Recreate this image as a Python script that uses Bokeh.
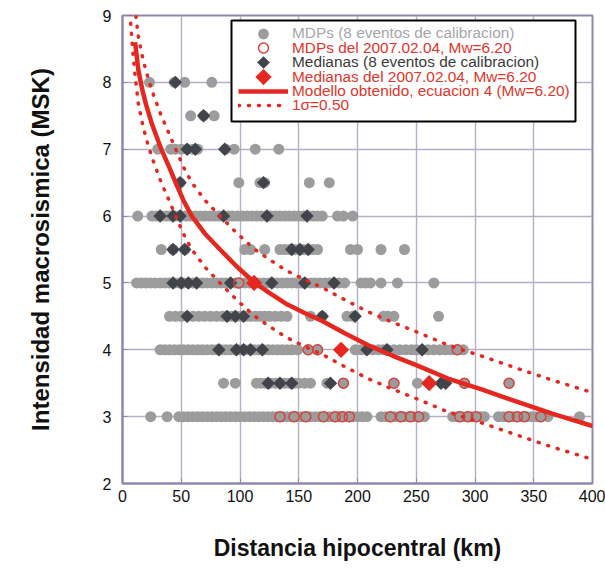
import numpy as np
from bokeh.plotting import figure
from bokeh.models import Legend, LegendItem, BoxAnnotation, FixedTicker
from bokeh.embed import file_html
from bokeh.resources import INLINE

FONT = "Liberation Sans"

# ---- MDPs (8 eventos de calibracion): distances (km) per intensity level ----
levels = [8.0, 7.5, 7.0, 6.5, 6.0, 5.5, 5.0, 4.5, 4.0, 3.5, 3.0]
mdp_8 = [23, 44, 53, 76]
mdp_75 = [58, 69, 78]
mdp_7 = [30, 41, 45, 50, 55, 60, 64, 88, 95, 113, 133]
mdp_65 = [49, 99, 117, 121, 159, 176]
mdp_6 = [13, 25, 29, 33, 37, 41, 45, 50, 54, 58, 62, 66, 70, 74, 78, 82, 86, 90, 94, 98,
         102, 106, 110, 114, 118, 122, 126, 130, 134, 138, 142, 146, 150, 154, 158, 162,
         166, 170, 183, 188, 196]
mdp_55 = [33, 43, 53, 104, 109, 121, 134, 138, 142, 146, 150, 154, 158, 162, 166, 194,
          200, 220, 240]
mdp_5 = [12, 16, 20, 24, 28, 32, 36, 40, 44, 48, 52, 56, 60, 64, 68, 72, 76, 80, 84, 88,
         92, 96, 99, 104, 108, 112, 116, 120, 124, 128, 132, 136, 140, 144, 148, 152, 156,
         160, 164, 168, 172, 176, 180, 184, 189, 203, 207, 211, 220, 234, 265]
mdp_45 = [40, 45, 50, 55, 60, 65, 70, 75, 80, 85, 89, 93, 97, 101, 105, 109, 113, 117,
          121, 125, 130, 135, 140, 160, 170, 191, 196, 222, 226, 231, 269]
mdp_4 = [32, 36, 40, 44, 48, 52, 56, 60, 64, 68, 72, 76, 80, 84, 88, 92, 96, 100, 104,
         108, 112, 116, 120, 124, 128, 132, 136, 140, 144, 149, 158, 166, 198, 203, 208,
         213, 218, 222, 226, 231, 236, 241, 246, 250, 255, 260, 265, 270, 275, 280, 285, 290]
mdp_35 = [86, 96, 114, 118, 122, 126, 130, 134, 138, 142, 146, 150, 155, 160, 174, 188,
          231, 251, 291, 329]
mdp_3 = [24, 38, 48, 52, 56, 60, 64, 68, 72, 76, 80, 84, 88, 92, 96, 100, 104, 108, 112,
         116, 120, 124, 128, 132, 136, 140, 144, 148, 152, 156, 160, 164, 168, 172, 176,
         180, 184, 188, 192, 196, 200, 204, 208, 220, 224, 228, 232, 236, 240, 244, 248,
         252, 257, 281, 285, 289, 293, 297, 301, 305, 308, 320, 324, 328, 332, 336, 340,
         344, 348, 352, 356, 362, 389]
mdp_rows = [mdp_8, mdp_75, mdp_7, mdp_65, mdp_6, mdp_55, mdp_5, mdp_45, mdp_4, mdp_35, mdp_3]

# ---- MDPs del 2007.02.04 (open red circles) ----
ev_levels = [5.0, 4.0, 3.5, 3.0]
ev_5 = [99]
ev_4 = [158, 166, 285]
ev_35 = [188, 231, 291, 329]
ev_3 = [134, 146, 156, 171, 181, 187, 193, 228, 237, 245, 252, 287, 294, 301, 329, 336,
        342, 356]
ev_rows = [ev_5, ev_4, ev_35, ev_3]

# ---- Medianas (8 eventos de calibracion) ----
med_8 = [45]
med_75 = [69]
med_7 = [55, 62, 87]
med_65 = [49, 120]
med_6 = [32, 43, 49, 86, 123, 157]
med_55 = [43, 53, 144, 151, 158]
med_5 = [43, 50, 56, 63, 92, 127, 155, 180]
med_45 = [55, 89, 96, 103, 170, 198]
med_4 = [82, 97, 103, 109, 119, 208, 225, 255]
med_35 = [124, 134, 144, 177, 271, 275]
med_3 = []
med_rows = [med_8, med_75, med_7, med_65, med_6, med_55, med_5, med_45, med_4, med_35, med_3]

# ---- Medianas del 2007.02.04 ----
ev_med_x = [112, 186, 261]
ev_med_y = [5.0, 4.0, 3.5]

# ---- Model curve (ecuacion 4, Mw=6.20) ----
curve_x = [10.7, 13.5, 17, 20, 25, 33, 40, 45, 52, 59, 70, 83, 97, 112, 125, 140, 155,
           170, 190, 210, 230, 250, 277, 305, 333, 365, 400]
curve_mid = [8.60, 8.18, 7.88, 7.67, 7.38, 7.00, 6.72, 6.51, 6.23, 6.00, 5.74, 5.50, 5.25,
             5.01, 4.85, 4.68, 4.55, 4.43, 4.24, 4.06, 3.91, 3.77, 3.57, 3.41, 3.24, 3.05,
             2.86]
# ---- +/- 1 sigma curves (drawn from shorter distances) ----
sig_x = [5, 6.5, 8.5, 10.7, 13.5, 17, 20, 25, 33, 40, 45, 52, 59, 70, 83, 97, 112, 125,
         140, 155, 170, 190, 210, 230, 250, 277, 305, 333, 365, 400]
sig_up = [10.48, 10.00, 9.52, 9.10, 8.68, 8.38, 8.17, 7.88, 7.50, 7.22, 7.01, 6.73, 6.50,
          6.24, 6.00, 5.75, 5.51, 5.35, 5.18, 5.05, 4.93, 4.74, 4.56, 4.41, 4.27, 4.07,
          3.91, 3.74, 3.55, 3.36]
sig_lo = [9.48, 9.00, 8.52, 8.10, 7.68, 7.38, 7.17, 6.88, 6.50, 6.22, 6.01, 5.73, 5.50,
          5.24, 5.00, 4.75, 4.51, 4.35, 4.18, 4.05, 3.93, 3.74, 3.56, 3.41, 3.27, 3.07,
          2.91, 2.74, 2.55, 2.36]

x_ticks = [0, 50, 100, 150, 200, 250, 300, 350, 400]
y_ticks = [2, 3, 4, 5, 6, 7, 8, 9]

labels = ["MDPs (8 eventos de calibracion)",
          "MDPs del 2007.02.04, Mw=6.20",
          "Medianas (8 eventos de calibracion)",
          "Medianas del 2007.02.04, Mw=6.20",
          "Modello obtenido, ecuacion 4 (Mw=6.20)",
          "1\u03c3=0.50"]

GREY = "#9c9c9c"
DARK = "#41444b"
RED = "#e5281f"
RING = "#d4453b"
FRAME = "#9186ad"
GRID = "#b6adc9"


def flatten(rows, lv):
    xs, ys = [], []
    for r, l in zip(rows, lv):
        xs += list(r)
        ys += [l] * len(r)
    return xs, ys


mx, my = flatten(mdp_rows, levels)
ex, ey = flatten(ev_rows, ev_levels)
dx, dy = flatten(med_rows, levels)

X0, X1, Y0, Y1 = 0, 400, 2, 9
W, H = 605, 570
BL, BR, BT, BB = 122, 13, 15, 87
p = figure(width=W, height=H, x_range=(X0, X1), y_range=(Y0, Y1),
           output_backend="svg", toolbar_location=None,
           min_border_left=BL, min_border_right=BR, min_border_top=BT,
           min_border_bottom=BB, background_fill_color="white",
           border_fill_color="white")
FW = W - BL - BR
FH = H - BT - BB


def sx2d(px):
    return X0 + (px - BL) * (X1 - X0) / FW


def sy2d(py):
    return Y1 - (py - BT) * (Y1 - Y0) / FH


p.outline_line_color = FRAME
p.outline_line_width = 2
for ax in (p.xaxis, p.yaxis):
    ax.axis_line_color = FRAME
    ax.axis_line_width = 2
    ax.major_tick_line_color = FRAME
    ax.major_tick_in = 5
    ax.major_tick_out = 0
    ax.minor_tick_line_color = None
    ax.major_label_text_font = FONT
    ax.major_label_text_font_size = "16px"
    ax.major_label_text_color = "#111111"
    ax.axis_label_text_font = FONT
    ax.axis_label_text_font_style = "bold"
    ax.axis_label_text_color = "#111111"
p.xaxis.axis_label_text_font_size = "23px"
p.yaxis.axis_label_text_font_size = "24px"
p.xaxis.ticker = FixedTicker(ticks=x_ticks)
p.yaxis.ticker = FixedTicker(ticks=y_ticks)
p.xaxis.axis_label = "Distancia hipocentral (km)"
p.yaxis.axis_label = "Intensidad macrosismica (MSK)"
p.xaxis.major_label_standoff = 6
p.yaxis.major_label_standoff = 11
p.xaxis.axis_label_standoff = 30
p.yaxis.axis_label_standoff = 46
p.xgrid.ticker = FixedTicker(ticks=x_ticks)
p.ygrid.ticker = FixedTicker(ticks=y_ticks)
p.grid.grid_line_color = GRID
p.grid.grid_line_width = 1.4

r_mdp = p.scatter(mx, my, marker="circle", size=11, fill_color=GREY, line_color=None)
r_med = p.scatter(dx, dy, marker="square", angle=np.pi / 4, size=9.5,
                  fill_color=DARK, line_color=None)
r_ev = p.scatter(ex, ey, marker="circle", size=10, fill_color=None, line_color=RING,
                 line_width=1.5)
r_up = p.line(sig_x, sig_up, line_color=RED, line_width=3.5, line_dash="1 9",
              line_cap="round")
r_lo = p.line(sig_x, sig_lo, line_color=RED, line_width=3.5, line_dash="1 9",
              line_cap="round")
r_mid = p.line(curve_x, curve_mid, line_color=RED, line_width=4.5)
r_evmed = p.scatter(ev_med_x, ev_med_y, marker="square", angle=np.pi / 4, size=11.5,
                    fill_color=RED, line_color=None)

# legend frame
box = BoxAnnotation(left=sx2d(231), right=sx2d(575), top=sy2d(20), bottom=sy2d(121),
                    fill_color="white", fill_alpha=1.0, line_color="black",
                    line_width=2, line_alpha=1.0)
p.add_layout(box)

# empty proxy renderer (diamond swatches are drawn separately, rotated)
proxy = p.scatter(x=[], y=[], marker="circle", size=1, fill_alpha=0, line_alpha=0)

SW_L = 238          # swatch left (px)
centers = [33, 47.8, 62, 76.6, 90.8, 105]
glyph_h = [27, 25, 20, 20, 20, 20]
text_colors = ["#a6a6a6", "#e0352b", "#3a3a3a", "#e0352b", "#e0352b", "#e0352b"]
rends = [[r_mdp], [r_ev], [proxy], [proxy], [r_mid], [r_up]]

for lab, col, c, gh, rr in zip(labels, text_colors, centers, glyph_h, rends):
    leg = Legend(items=[LegendItem(label=lab, renderers=rr)],
                 location=(SW_L - BL, (H - BB) - c - gh / 2),
                 glyph_width=50, glyph_height=gh, label_height=gh, label_width=10,
                 label_standoff=4, padding=0, margin=0, spacing=0,
                 border_line_alpha=0, background_fill_alpha=0,
                 label_text_color=col, label_text_font=FONT,
                 label_text_font_size="15.4px")
    p.add_layout(leg)

# rotated-square (diamond) swatches for the two median entries
p.scatter([sx2d(SW_L + 25)], [sy2d(centers[2])], marker="square", angle=np.pi / 4,
          size=9, fill_color=DARK, line_color=None, level="overlay")
p.scatter([sx2d(SW_L + 25)], [sy2d(centers[3])], marker="square", angle=np.pi / 4,
          size=11.5, fill_color=RED, line_color=None, level="overlay")

open("out.html", "w").write(file_html(p, INLINE))
